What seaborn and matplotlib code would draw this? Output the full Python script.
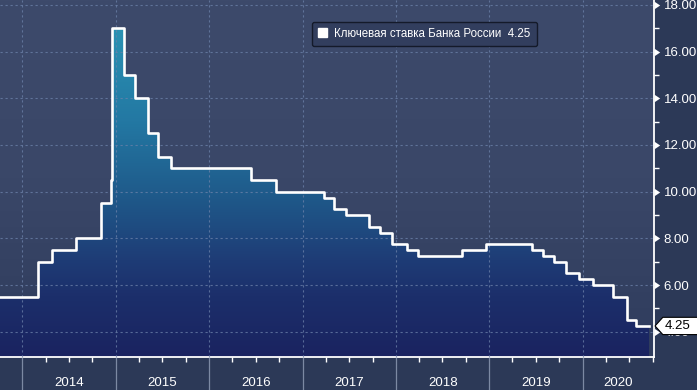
import matplotlib
matplotlib.use("Agg")
import numpy as np
import pandas as pd
import matplotlib.pyplot as plt
import matplotlib.dates as mdates
import matplotlib.transforms as mtrans
from matplotlib.colors import LinearSegmentedColormap
from matplotlib.patches import Patch
from matplotlib.path import Path
from matplotlib.ticker import NullFormatter, FixedLocator
import seaborn as sns

# ---------------- data ----------------
change_dates = ["2013-10-05", "2014-03-03", "2014-04-28", "2014-07-28", "2014-11-05",
                "2014-12-12", "2014-12-16", "2015-02-02", "2015-03-16", "2015-05-05",
                "2015-06-16", "2015-08-03", "2016-06-14", "2016-09-19", "2017-03-27",
                "2017-05-02", "2017-06-19", "2017-09-18", "2017-10-30", "2017-12-18",
                "2018-02-12", "2018-03-26", "2018-09-17", "2018-12-17", "2019-06-17",
                "2019-07-29", "2019-09-09", "2019-10-28", "2019-12-16", "2020-02-10",
                "2020-04-27", "2020-06-22", "2020-07-27", "2020-09-18"]
key_rate = [5.5, 7.0, 7.5, 8.0, 9.5,
            10.5, 17.0, 15.0, 14.0, 12.5,
            11.5, 11.0, 10.5, 10.0, 9.75,
            9.25, 9.0, 8.5, 8.25, 7.75,
            7.5, 7.25, 7.5, 7.75, 7.5,
            7.25, 7.0, 6.5, 6.25, 6.0,
            5.5, 4.5, 4.25, 4.25]
year_labels = ["2014", "2015", "2016", "2017", "2018", "2019", "2020"]
y_major = [4, 6, 8, 10, 12, 14, 16, 18]
y_minor = [5, 7, 9, 11, 13, 15, 17]
legend_label = "Ключевая ставка Банка России  4.25"
last_label = "4.25"

x_start, x_end = "2013-10-05", "2020-10-06"
y_bottom, y_top = 2.92, 18.21

# ---------------- style ----------------
plt.rcParams["font.family"] = ["Liberation Sans", "DejaVu Sans"]

fig = plt.figure(figsize=(6.97, 3.90), dpi=100, facecolor="#2c3957")
ax = fig.add_axes([0, 33 / 390, 654 / 697, 357 / 390])
ax.set_axisbelow(False)

df = pd.DataFrame({"date": pd.to_datetime(change_dates), "rate": key_rate})
x0, x1 = mdates.date2num(pd.Timestamp(x_start)), mdates.date2num(pd.Timestamp(x_end))

# background gradient
bg_cmap = LinearSegmentedColormap.from_list("bg", ["#2f3c5d", "#3a4768", "#3d4a6b"])
ax.imshow(np.linspace(0, 1, 256).reshape(-1, 1), extent=[x0, x1, y_bottom, y_top],
          aspect="auto", origin="lower", cmap=bg_cmap, zorder=0)

# step line
sns.lineplot(data=df, x="date", y="rate", drawstyle="steps-post", color="white",
             linewidth=1.9, ax=ax, zorder=4, legend=False)

# gradient fill under the line
poly = ax.fill_between(df["date"], df["rate"], y_bottom, step="post",
                       facecolor="none", edgecolor="none")
fill_cmap = LinearSegmentedColormap.from_list(
    "fill",
    [(0.0, "#1a2360"), (0.17, "#1c2f6b"), (0.27, "#1e3c76"), (0.46, "#1f5b8b"),
     (0.66, "#2378a3"), (0.92, "#2a92b3"), (1.0, "#2c98b7")])
vals = np.linspace(0, 1, 512).reshape(-1, 1)
im = ax.imshow(vals, extent=[x0, x1, y_bottom, y_top], aspect="auto",
               origin="lower", cmap=fill_cmap, zorder=2)
im.set_clip_path(poly.get_paths()[0], transform=ax.transData)

ax.set_xlim(x0, x1)
ax.set_ylim(y_bottom, y_top)

# grid
ax.grid(True, which="major", axis="both", color="#6d82aa", linestyle=(0, (2, 2.5)),
        linewidth=0.8, alpha=0.75)

# spines
for s in ["top", "left"]:
    ax.spines[s].set_visible(False)
for s in ["bottom", "right"]:
    ax.spines[s].set_color("white")
    ax.spines[s].set_linewidth(1.3)

# y axis (right)
ax.yaxis.tick_right()
ax.yaxis.set_major_locator(FixedLocator(y_major))
ax.yaxis.set_minor_locator(FixedLocator(y_minor))
ax.set_yticklabels([f"{v:.2f}" for v in y_major])
ax.tick_params(axis="y", which="major", length=0, pad=7, labelcolor="white",
               labelsize=9.5, right=True, left=False)
ax.tick_params(axis="y", which="minor", length=3.5, width=1, color="white",
               direction="out", right=True, left=False)
ax.set_ylabel("")
ytrans = mtrans.blended_transform_factory(ax.transAxes, ax.transData)
ax.scatter([1.0] * len(y_major), y_major, marker=9, s=30, color="white",
           transform=ytrans, clip_on=False, zorder=5, linewidths=0)

# x axis
ax.xaxis.set_major_locator(mdates.YearLocator())
ax.xaxis.set_minor_locator(mdates.MonthLocator(bymonth=[4, 7, 10]))
ax.xaxis.set_major_formatter(NullFormatter())
ax.xaxis.set_minor_formatter(NullFormatter())
ax.tick_params(axis="x", which="major", length=25, width=0.9, color="#7c89a3",
               direction="out")
ax.tick_params(axis="x", which="minor", length=3.5, width=1, color="white",
               direction="out")
ax.set_xlabel("")
xtrans = mtrans.blended_transform_factory(ax.transData, ax.transAxes)
for lab in year_labels:
    ys = max(mdates.date2num(pd.Timestamp(f"{lab}-01-01")), x0)
    ye = min(mdates.date2num(pd.Timestamp(f"{int(lab) + 1}-01-01")), x1)
    ax.text((ys + ye) / 2, -0.073, lab, transform=xtrans, ha="center", va="center",
            color="white", fontsize=9.5, clip_on=False)

# legend
leg = ax.legend(handles=[Patch(facecolor="white", edgecolor="white")],
                labels=[legend_label], loc="center", bbox_to_anchor=(0.649, 0.905),
                fontsize=8.3, frameon=True, fancybox=True, facecolor="#323e5e",
                edgecolor="#141a2a", framealpha=1, handlelength=0.8, handleheight=0.8,
                handletextpad=0.6, borderpad=0.55)
for t in leg.get_texts():
    t.set_color("white")
leg.get_frame().set_linewidth(1.0)


# last value label: tag-shaped box pointing left
def tag_box(x0, y0, width, height, mutation_size):
    pad = 0.2 * mutation_size
    bx0, by0 = x0 - pad * 0.6, y0 - pad
    bx1, by1 = x0 + width + pad * 3, y0 + height + pad
    h = by1 - by0
    tip = bx0 - h * 0.45
    verts = [(tip, (by0 + by1) / 2), (bx0, by0), (bx1, by0), (bx1, by1), (bx0, by1),
             (tip, (by0 + by1) / 2)]
    codes = [Path.MOVETO] + [Path.LINETO] * 4 + [Path.CLOSEPOLY]
    return Path(verts, codes)


ax.annotate(last_label, xy=(1.0, key_rate[-1]), xycoords=ytrans, xytext=(7.5, 0),
            textcoords="offset points", ha="left", va="center", fontsize=9.5,
            color="black", annotation_clip=False, zorder=6,
            bbox=dict(boxstyle=tag_box, fc="white", ec="black", lw=0.8))

fig.savefig("out.png", dpi=100, facecolor=fig.get_facecolor())
